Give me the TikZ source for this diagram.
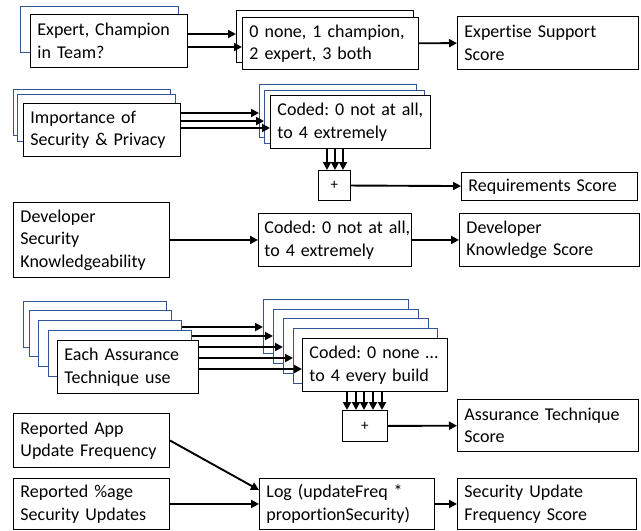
\documentclass[tikz,border=0pt]{standalone}
\usepackage{fontspec}
\setmainfont{Carlito}[Ligatures={NoCommon}]
\usepackage{tikz}
\usetikzlibrary{arrows.meta}
\definecolor{backblue}{RGB}{47,85,151}

\begin{document}
\begin{tikzpicture}
		[x=1pt, y=-1pt,
		>={Triangle[length=8pt,width=8pt]},
		box/.style={draw=black, line width=0.9pt, fill=white, anchor=north west, align=left, inner xsep=7pt, inner ysep=0pt, font=\fontsize{18}{22.5}\selectfont\frenchspacing},
		back/.style={draw=backblue, line width=0.8pt, fill=white, anchor=north west, inner sep=0pt},
		plusbox/.style={draw=black, line width=0.9pt, fill=white, anchor=north west, inner sep=0pt, font=\fontsize{15}{17}\selectfont},
		arr/.style={line width=1.9pt}]

		\path[fill=white, use as bounding box] (0,0) rectangle (641,531);

		% expertise
		\node[back, minimum width=158pt, minimum height=46pt] (expBack) at (20,6) {};
		\node[box, text width=143pt, minimum height=53pt] (expert) at (30,14) {Expert, Champion\\in Team?};

		\node[back, draw=black, minimum width=177pt, minimum height=52pt] (noneBack) at (236,10) {};
		\node[box, text width=162pt, minimum height=52pt] (none) at (242,17) {0 none, 1 champion,\\2 expert, 3 both};

		\node[box, text width=167pt, minimum height=53pt] (expSc) at (457,16) {Expertise Support\\Score}
			edge [<-, arr]	(none)
		;

		\draw[->, arr] (expert.east |- 0,34) -- (noneBack.west |- 0,34);
		\draw[->, arr] (expert.east |- 0,47) -- (none.west |- 0,47);

		% requirements
		\node[back, minimum width=157pt, minimum height=46pt] (impBackA) at (13,89) {};
		\node[back, minimum width=158pt, minimum height=47pt] (impBackB) at (17,94) {};
		\node[box, text width=143pt, minimum height=53pt] (imp) at (23,103) {Importance of\\Security \& Privacy};

		\node[back, minimum width=157pt, minimum height=53pt] (reqBackA) at (259,84) {};
		\node[back, minimum width=160pt, minimum height=53pt] (reqBackB) at (264,90) {};
		\node[box, text width=146pt, minimum height=53pt] (req) at (270,95) {Coded:~0~not~at~all,\\to 4 extremely};

		\draw[->, arr] (imp.east |- 0,113) -- (reqBackA.west |- 0,113);
		\draw[->, arr] (imp.east |- 0,121) -- (reqBackB.west |- 0,121);
		\draw[->, arr] (imp.east |- 0,128) -- (req.west |- 0,128);

		\node[plusbox, minimum width=32pt, minimum height=30pt] (reqSum) at (318,170) {+};
		\foreach \x in {327,335,343}
			\draw[->, arr] (req.south -| \x,0) -- (reqSum.north -| \x,0);

		\node[box, text width=162pt, minimum height=28pt] (reqSc) at (461,172) {Requirements Score}
			edge [<-, arr]	(reqSum)
		;

		% developer knowledge
		\node[box, text width=142pt, minimum height=75pt] (dev) at (13,202) {Developer\\Security\\Knowledgeability};

		\node[box, inner xsep=6pt, text width=141pt, minimum height=53pt] (devCode) at (258,213) {Coded:~0~not~at~all,\\to 4 extremely}
			edge [<-, arr]	(dev)
		;

		\node[box, text width=166pt, minimum height=53pt] (devSc) at (459,213) {Developer\\Knowledge Score}
			edge [<-, arr]	(devCode)
		;

		% assurance techniques
		\node[back, minimum width=143pt, minimum height=46pt] (eachBackA) at (23,301) {};
		\node[back, minimum width=142pt, minimum height=46pt] (eachBackB) at (29,310) {};
		\node[back, minimum width=143pt, minimum height=46pt] (eachBackC) at (38,320) {};
		\node[back, minimum width=143pt, minimum height=46pt] (eachBackD) at (48,330) {};
		\node[box, text width=127pt, minimum height=53pt] (each) at (57,340) {Each Assurance\\Technique use};

		\node[back, minimum width=145pt, minimum height=54pt] (asBackA) at (263,299) {};
		\node[back, minimum width=145pt, minimum height=54pt] (asBackB) at (273,309) {};
		\node[back, minimum width=145pt, minimum height=55pt] (asBackC) at (283,318) {};
		\node[back, minimum width=144pt, minimum height=55pt] (asBackD) at (293,328) {};
		\node[box, text width=131pt, minimum height=53pt] (asCode) at (302,338) {Coded:~0~none~…\\to 4 every build};

		\foreach \s/\t/\y in {eachBackC/asBackA/327, eachBackD/asBackB/336, each/asBackC/347, each/asBackD/358, each/asCode/369}
			\draw[->, arr] (\s.east |- 0,\y) -- (\t.west |- 0,\y);

		\node[plusbox, minimum width=45pt, minimum height=31pt] (asSum) at (342,410) {+};
		\foreach \x in {347,356,364,373,382}
			\draw[->, arr] (asCode.south -| \x,0) -- (asSum.north -| \x,0);

		\node[box, text width=167pt, minimum height=52pt] (asSc) at (457,399) {Assurance Technique\\Score}
			edge [<-, arr]	(asSum)
		;

		% update frequency
		\node[box, text width=142pt, minimum height=54pt] (app) at (13,413) {Reported App\\Update~Frequency};
		\node[box, text width=142pt, minimum height=51pt] (pct) at (13,478) {Reported \%age\\Security Updates};

		\node[box, text width=161pt, minimum height=51pt] (log) at (259,478) {Log (updateFreq *\\proportionSecurity)}
			edge [<-, arr]	(pct)
		;
		\draw[->, arr] (app.east) -- (log.west |- 0,490);

		\node[box, text width=165pt, minimum height=51pt] (upSc) at (457,478) {Security Update\\Frequency Score}
			edge [<-, arr]	(log)
		;
\end{tikzpicture}
\end{document}
